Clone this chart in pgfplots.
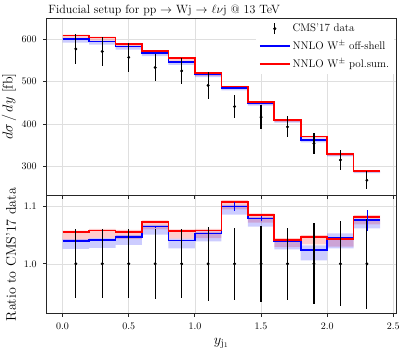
\documentclass[border=0pt]{standalone}
\usepackage{pgfplots}
\usepackage{pgfplotstable}
\pgfplotsset{compat=1.18}
\usepgfplotslibrary{fillbetween}

% bin lower edges; last row repeats the last bin for const plot
% d = CMS'17 value [fb], rb/rr = ratio off-shell/pol.sum. to data, up/dn = band half-widths, be/re = MC errors
\pgfplotstableread{
x   d   rb    rr    bup   bdn   rup   rdn   be    re
0.0 577 1.040 1.055 0.003 0.014 0.003 0.013 0.001 0.001
0.2 571 1.042 1.058 0.003 0.014 0.003 0.013 0.001 0.001
0.4 557 1.047 1.056 0.003 0.014 0.003 0.013 0.001 0.001
0.6 533 1.065 1.073 0.003 0.014 0.003 0.013 0.001 0.001
0.8 525 1.041 1.057 0.003 0.014 0.003 0.013 0.001 0.001
1.0 491 1.053 1.058 0.003 0.014 0.003 0.013 0.002 0.001
1.2 441 1.100 1.108 0.003 0.014 0.003 0.013 0.007 0.002
1.4 416 1.079 1.085 0.003 0.014 0.003 0.013 0.004 0.002
1.6 393 1.039 1.042 0.003 0.014 0.003 0.013 0.002 0.001
1.8 354 1.024 1.047 0.008 0.018 0.003 0.013 0.007 0.002
2.0 315 1.045 1.043 0.008 0.018 0.003 0.013 0.008 0.002
2.2 267 1.076 1.082 0.003 0.014 0.003 0.013 0.018 0.003
2.4 267 1.076 1.082 0.003 0.014 0.003 0.013 0.018 0.003
}\theory

% CMS'17 data: bin centre, value [fb], relative error
\pgfplotstableread{
x   d   e
0.1 577 0.060
0.3 571 0.060
0.5 557 0.060
0.7 533 0.061
0.9 525 0.060
1.1 491 0.065
1.3 441 0.063
1.5 416 0.066
1.7 393 0.063
1.9 354 0.071
2.1 315 0.074
2.3 267 0.078
}\cms

\pgfplotsset{
  panel/.style={
    scale only axis, width=349.3pt,
    xmin=-0.12, xmax=2.52,
    xtick={0,0.5,1,1.5,2,2.5},
    axis line style={line width=0.8pt, black!85},
    tick align=outside, tick pos=left,
    major tick length=3.5pt,
    tick style={black!85, line width=0.8pt},
    grid=major, major grid style={gray!25, line width=0.5pt},
    tick label style={font=\fontsize{10}{12}\selectfont},
    xticklabel style={yshift=-3pt},
    yticklabel style={xshift=-3pt},
    y label style={at={(axis description cs:-0.077,0.5)}, anchor=south,
      font=\fontsize{14}{16}\selectfont},
  },
  theo/.style={const plot, line width=1.6pt},
  dat/.style={only marks, mark=*, mark size=1.3pt, black,
    error bars/.cd, y dir=both, y explicit,
    error bar style={line width=1.2pt, black}, error mark=none, /pgfplots/.cd},
  terr/.style={only marks, mark=*, mark size=0pt, forget plot,
    error bars/.cd, y dir=both, y explicit,
    error bar style={line width=0.7pt}, error mark=none, /pgfplots/.cd},
}

\begin{document}
\begin{tikzpicture}
\begin{axis}[panel, name=top,
  height=177.5pt,
  ymin=231, ymax=650,
  ytick={300,400,500,600},
  xticklabels={},
  ylabel={$d\sigma\,/\,dy$ [fb]},
  title={Fiducial setup for pp $\to$ Wj $\to$ $\ell\nu$j @ 13 TeV},
  title style={at={(rel axis cs:0,1)}, anchor=base west, xshift=1.5pt, yshift=-1.5pt,
    inner sep=0pt, font=\fontsize{12}{14}\selectfont},
  legend style={draw=none, fill=white, at={(rel axis cs:0.995,0.995)}, anchor=north east,
    font=\fontsize{11}{13}\selectfont, row sep=3.5pt, inner sep=3pt},
  legend cell align=left,
  legend image code/.code={\draw[#1] (0pt,0pt) -- (30pt,0pt);},
]
\addlegendimage{black, legend image code/.code={
  \draw[line width=1.2pt] (15pt,-5.5pt) -- (15pt,5.5pt);
  \fill (15pt,0pt) circle (1.4pt);}}
\addlegendentry{CMS'17 data}
\addlegendimage{blue, line width=1.6pt}
\addlegendentry{NNLO W$^\pm$ off-shell}
\addlegendimage{red, line width=1.6pt}
\addlegendentry{NNLO W$^\pm$ pol.sum.}

% bands
\addplot[name path=rhiT, draw=none, const plot, forget plot] table[x=x, y expr=(\thisrow{rr}+\thisrow{rup})*\thisrow{d}] {\theory};
\addplot[name path=rloT, draw=none, const plot, forget plot] table[x=x, y expr=(\thisrow{rr}-\thisrow{rdn})*\thisrow{d}] {\theory};
\addplot[fill=red, fill opacity=0.2, draw=none, forget plot] fill between[of=rhiT and rloT];
\addplot[name path=bhiT, draw=none, const plot, forget plot] table[x=x, y expr=(\thisrow{rb}+\thisrow{bup})*\thisrow{d}] {\theory};
\addplot[name path=bloT, draw=none, const plot, forget plot] table[x=x, y expr=(\thisrow{rb}-\thisrow{bdn})*\thisrow{d}] {\theory};
\addplot[fill=blue, fill opacity=0.2, draw=none, forget plot] fill between[of=bhiT and bloT];

\addplot[theo, blue, forget plot] table[x=x, y expr=\thisrow{rb}*\thisrow{d}] {\theory};
\addplot[theo, red, forget plot] table[x=x, y expr=\thisrow{rr}*\thisrow{d}] {\theory};

\addplot[forget plot, dat] table[x=x, y=d, y error expr=\thisrow{e}*\thisrow{d}] {\cms};
\end{axis}

\begin{axis}[panel, name=bot,
  at={([yshift=-2.5pt]top.south west)}, anchor=north west,
  height=118pt,
  ymin=0.9133, ymax=1.1192,
  ytick={1.0,1.1},
  xticklabel style={/pgf/number format/.cd, fixed, fixed zerofill, precision=1},
  yticklabel style={/pgf/number format/.cd, fixed, fixed zerofill, precision=1},
  ylabel={Ratio to CMS'17 data},
  xlabel={$y_{\mathrm{j}_1}$},
  x label style={at={(rel axis cs:0.5,0)}, anchor=north, yshift=-21pt,
    font=\fontsize{14}{16}\selectfont},
]
\addplot[name path=rhiB, draw=none, const plot] table[x=x, y expr=\thisrow{rr}+\thisrow{rup}] {\theory};
\addplot[name path=rloB, draw=none, const plot] table[x=x, y expr=\thisrow{rr}-\thisrow{rdn}] {\theory};
\addplot[fill=red, fill opacity=0.2, draw=none] fill between[of=rhiB and rloB];
\addplot[name path=bhiB, draw=none, const plot] table[x=x, y expr=\thisrow{rb}+\thisrow{bup}] {\theory};
\addplot[name path=bloB, draw=none, const plot] table[x=x, y expr=\thisrow{rb}-\thisrow{bdn}] {\theory};
\addplot[fill=blue, fill opacity=0.2, draw=none] fill between[of=bhiB and bloB];

\addplot[theo, blue] table[x=x, y=rb] {\theory};
\addplot[theo, red] table[x=x, y=rr] {\theory};

\addplot[red, skip coords between index={12}{13}, terr] table[x expr=\thisrow{x}+0.1, y=rr, y error=re] {\theory};
\addplot[blue, skip coords between index={12}{13}, terr] table[x expr=\thisrow{x}+0.1, y=rb, y error=be] {\theory};

\addplot[dat] table[x=x, y expr=1, y error=e] {\cms};
\end{axis}

\pgfresetboundingbox
\path ([shift={(-46.7pt,18pt)}]top.north west) rectangle ([shift={(360.3pt,-337pt)}]top.north west);
\end{tikzpicture}
\end{document}
